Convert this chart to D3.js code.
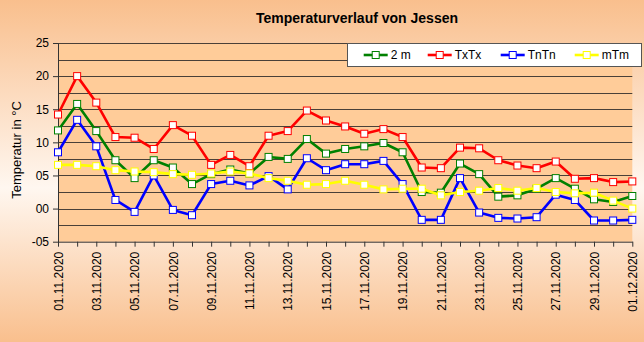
<!DOCTYPE html>
<html><head><meta charset="utf-8">
<script src="https://cdn.jsdelivr.net/npm/d3@7"></script>
<style>html,body{margin:0;padding:0;overflow:hidden;background:#fff;} svg{display:block;font-family:"Liberation Sans",Arial,sans-serif;}</style>
</head><body>
<script>
const dates = ["01.11.2020","02.11.2020","03.11.2020","04.11.2020","05.11.2020","06.11.2020","07.11.2020","08.11.2020","09.11.2020","10.11.2020",
"11.11.2020","12.11.2020","13.11.2020","14.11.2020","15.11.2020","16.11.2020","17.11.2020","18.11.2020","19.11.2020","20.11.2020",
"21.11.2020","22.11.2020","23.11.2020","24.11.2020","25.11.2020","26.11.2020","27.11.2020","28.11.2020","29.11.2020","30.11.2020","01.12.2020"];
const seriesNames = ["2 m","TxTx","TnTn","mTm"];
const t2m  = [11.8,15.8,11.7,7.3,4.6,7.3,6.2,3.7,5.2,5.9,5.3,7.8,7.5,10.5,8.3,9.0,9.4,9.9,8.5,2.5,2.4,6.8,5.2,1.8,2.0,3.0,4.6,3.0,1.4,1.0,1.9];
const txtx = [14.2,20.0,16.0,10.8,10.7,9.0,12.6,11.0,6.6,8.1,6.4,11.0,11.7,14.8,13.3,12.4,11.3,12.0,10.8,6.2,6.1,9.2,9.1,7.3,6.5,6.1,7.1,4.5,4.6,4.0,4.1];
const tntn = [8.5,13.4,9.4,1.3,-0.5,5.0,-0.2,-1.0,3.7,4.2,3.5,4.9,2.9,7.6,5.8,6.7,6.7,7.2,3.7,-1.7,-1.7,4.6,-0.6,-1.4,-1.5,-1.3,2.1,1.3,-1.8,-1.8,-1.7];
const mtm  = [6.6,6.6,6.4,5.8,5.6,5.5,5.2,5.1,5.3,5.6,5.3,4.6,4.2,3.6,3.7,4.2,3.6,2.9,3.0,3.0,2.0,2.5,2.7,3.1,2.7,3.1,2.5,2.3,2.4,1.2,0.0];
const yTickValues = [-5,0,5,10,15,20,25];
const yTickLabels = ["-05","00","05","10","15","20","25"];
const titleText = "Temperaturverlauf von Jessen";
const yTitle = "Temperatur in °C";

(function(){
const seriesValues = [t2m, txtx, tntn, mtm];
const colors = ["#008000","#ff0000","#0000ff","#ffff00"];

const W = 644, H = 342;
const svg = d3.select("body").append("svg").attr("width", W).attr("height", H);
const defs = svg.append("defs");
const g = defs.append("linearGradient").attr("id","bg").attr("x1",0).attr("y1",0).attr("x2",0).attr("y2",1);
g.append("stop").attr("offset","0%").attr("stop-color","#f9bf8d");
g.append("stop").attr("offset","55%").attr("stop-color","#fff7f0");
g.append("stop").attr("offset","100%").attr("stop-color","#f9bf8d");
svg.append("rect").attr("width",W).attr("height",H).attr("fill","url(#bg)");

const pL = 58, pR = 632.3, pT = 43, pB = 241.7;
const x = d3.scalePoint().domain(dates).range([pL, pR]);
const y = d3.scaleLinear().domain([-5, 25]).range([pB, pT]);

svg.append("rect").attr("x",pL).attr("y",pT).attr("width",pR-pL).attr("height",pB-pT).attr("fill","#ffcc99");

// gridlines
svg.append("g").selectAll("line").data(d3.range(-2.5, 25.01, 2.5)).join("line")
  .attr("x1",pL).attr("x2",pR)
  .attr("y1",d=>Math.round(y(d))+0.5).attr("y2",d=>Math.round(y(d))+0.5)
  .attr("stroke","#4a4038").attr("stroke-width",1);

// y axis
const ya = svg.append("g").attr("transform",`translate(${pL},0)`)
  .call(d3.axisLeft(y).tickValues(yTickValues).tickFormat((d,i)=>yTickLabels[i]).tickSize(5).tickSizeOuter(0).tickPadding(4));
ya.selectAll("path,line").attr("stroke","#333");
ya.selectAll("text").attr("font-size","12px").attr("fill","#000").attr("font-family","Liberation Sans, Arial, sans-serif");

// x axis
const xa = svg.append("g").attr("transform",`translate(0,${pB})`)
  .call(d3.axisBottom(x).tickSize(5).tickSizeOuter(0).tickFormat((d,i)=> i%2===0 ? d : ""));
xa.selectAll("path,line").attr("stroke","#333");
xa.selectAll("text").attr("font-size","12px").attr("fill","#000").attr("font-family","Liberation Sans, Arial, sans-serif")
  .attr("transform","rotate(-90)").attr("x",-10).attr("y",0).attr("dy","0.35em").style("text-anchor","end");

// series
const line = d3.line().x((d,i)=>x(dates[i])).y(d=>y(d));
seriesValues.forEach((vals, si) => {
  const sg = svg.append("g");
  sg.append("path").datum(vals).attr("d", line).attr("fill","none")
    .attr("stroke", colors[si]).attr("stroke-width", 2.6).attr("stroke-linejoin","round");
  sg.selectAll("rect").data(vals).join("rect")
    .attr("x",(d,i)=>x(dates[i])-3.5).attr("y",d=>y(d)-3.5)
    .attr("width",7).attr("height",7).attr("fill","#fff")
    .attr("stroke", colors[si]).attr("stroke-width",1);
});

// title
svg.append("text").attr("x",357).attr("y",23).attr("text-anchor","middle")
  .attr("font-size","14px").attr("font-weight","bold").text(titleText);
svg.append("text").attr("transform","translate(16,150) rotate(-90)").attr("text-anchor","middle")
  .attr("dy","0.35em").attr("font-size","13px").text(yTitle);

// legend
const lg = svg.append("g");
lg.append("rect").attr("x",347.5).attr("y",43.5).attr("width",294).attr("height",23)
  .attr("fill","#fff").attr("stroke","#555").attr("stroke-width",1);
const legX = [375.7, 439.7, 512.7, 586.7];
seriesNames.forEach((n, i) => {
  const cx = legX[i], cy = 55;
  lg.append("line").attr("x1",cx-12).attr("x2",cx+12).attr("y1",cy).attr("y2",cy)
    .attr("stroke",colors[i]).attr("stroke-width",2.6);
  lg.append("rect").attr("x",cx-3.5).attr("y",cy-3.5).attr("width",7).attr("height",7)
    .attr("fill","#fff").attr("stroke",colors[i]).attr("stroke-width",1);
  lg.append("text").attr("x",cx+15).attr("y",cy).attr("dy","0.36em").attr("font-size","12px").text(n);
});
})();
</script>
</body></html>
